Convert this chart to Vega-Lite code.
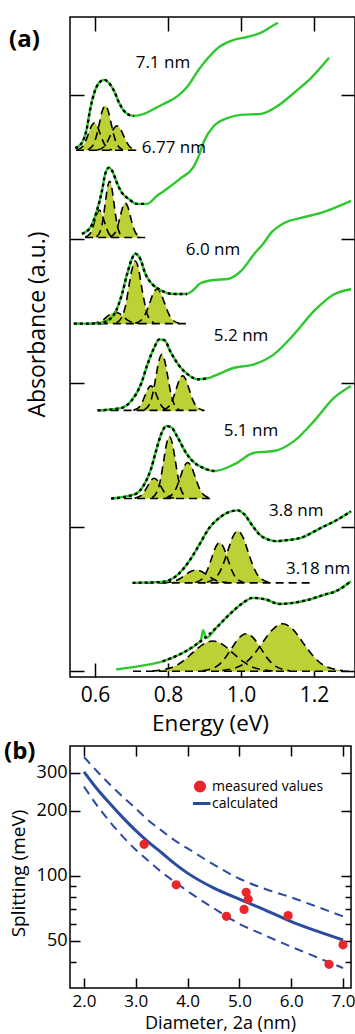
{
"$schema": "https://vega.github.io/schema/vega-lite/v6.json",
"padding": {"left": 3, "top": 15, "right": 0, "bottom": 0},
"background": "white",
"spacing": 3,
"config": {
 "font": "Open Sans",
 "view": {"stroke": "black", "strokeWidth": 1.5},
 "axis": {"grid": false, "domain": false, "tickColor": "black", "tickWidth": 1.5, "labelColor": "black", "titleColor": "black", "titleFontWeight": "normal", "labelFont": "Open Sans", "titleFont": "Open Sans"}
},
"datasets": {
 "spec": [
  {"s":1,"e":0.546,"a":3.63,"f":1},{"s":1,"e":0.564,"a":3.667,"f":1},{"s":1,"e":0.578,"a":3.771,"f":1},{"s":1,"e":0.586,"a":3.889,"f":1},{"s":1,"e":0.597,"a":4.007,"f":1},{"s":1,"e":0.611,"a":4.083,"f":1},{"s":1,"e":0.625,"a":4.104,"f":1},{"s":1,"e":0.638,"a":4.083,"f":1},{"s":1,"e":0.652,"a":4.028,"f":1},{"s":1,"e":0.666,"a":3.944,"f":1},{"s":1,"e":0.679,"a":3.889,"f":1},{"s":1,"e":0.693,"a":3.861,"f":1},{"s":1,"e":0.707,"a":3.854,"f":1},{"s":1,"e":0.734,"a":3.868,"f":0},{"s":1,"e":0.762,"a":3.903,"f":0},{"s":1,"e":0.789,"a":3.938,"f":0},{"s":1,"e":0.827,"a":3.993,"f":0},{"s":1,"e":0.855,"a":4.063,"f":0},{"s":1,"e":0.882,"a":4.167,"f":0},{"s":1,"e":0.91,"a":4.257,"f":0},{"s":1,"e":0.937,"a":4.326,"f":0},{"s":1,"e":0.973,"a":4.375,"f":0},{"s":1,"e":1.019,"a":4.403,"f":0},{"s":1,"e":1.055,"a":4.431,"f":0},{"s":1,"e":1.082,"a":4.472,"f":0},{"s":1,"e":1.101,"a":4.5,"f":0},
  {"s":2,"e":0.564,"a":3.035,"f":1},{"s":2,"e":0.587,"a":3.078,"f":1},{"s":2,"e":0.605,"a":3.194,"f":1},{"s":2,"e":0.619,"a":3.333,"f":1},{"s":2,"e":0.628,"a":3.451,"f":1},{"s":2,"e":0.638,"a":3.495,"f":1},{"s":2,"e":0.647,"a":3.472,"f":1},{"s":2,"e":0.66,"a":3.389,"f":1},{"s":2,"e":0.674,"a":3.319,"f":1},{"s":2,"e":0.692,"a":3.278,"f":1},{"s":2,"e":0.715,"a":3.243,"f":1},{"s":2,"e":0.742,"a":3.243,"f":1},{"s":2,"e":0.77,"a":3.299,"f":0},{"s":2,"e":0.789,"a":3.333,"f":0},{"s":2,"e":0.836,"a":3.424,"f":0},{"s":2,"e":0.868,"a":3.493,"f":0},{"s":2,"e":0.882,"a":3.563,"f":0},{"s":2,"e":0.899,"a":3.681,"f":0},{"s":2,"e":0.926,"a":3.785,"f":0},{"s":2,"e":0.964,"a":3.84,"f":0},{"s":2,"e":1.0,"a":3.861,"f":0},{"s":2,"e":1.055,"a":3.868,"f":0},{"s":2,"e":1.101,"a":3.924,"f":0},{"s":2,"e":1.145,"a":4.014,"f":0},{"s":2,"e":1.192,"a":4.118,"f":0},{"s":2,"e":1.241,"a":4.257,"f":0},
  {"s":3,"e":0.542,"a":2.412,"f":1},{"s":3,"e":0.605,"a":2.412,"f":1},{"s":3,"e":0.633,"a":2.431,"f":1},{"s":3,"e":0.655,"a":2.488,"f":1},{"s":3,"e":0.674,"a":2.618,"f":1},{"s":3,"e":0.688,"a":2.757,"f":1},{"s":3,"e":0.701,"a":2.861,"f":1},{"s":3,"e":0.71,"a":2.898,"f":1},{"s":3,"e":0.724,"a":2.861,"f":1},{"s":3,"e":0.738,"a":2.757,"f":1},{"s":3,"e":0.756,"a":2.688,"f":1},{"s":3,"e":0.779,"a":2.646,"f":1},{"s":3,"e":0.806,"a":2.62,"f":1},{"s":3,"e":0.829,"a":2.618,"f":1},{"s":3,"e":0.852,"a":2.618,"f":1},{"s":3,"e":0.866,"a":2.639,"f":0},{"s":3,"e":0.89,"a":2.694,"f":0},{"s":3,"e":0.926,"a":2.715,"f":0},{"s":3,"e":0.964,"a":2.722,"f":0},{"s":3,"e":1.0,"a":2.778,"f":0},{"s":3,"e":1.036,"a":2.896,"f":0},{"s":3,"e":1.06,"a":2.965,"f":0},{"s":3,"e":1.082,"a":3.042,"f":0},{"s":3,"e":1.118,"a":3.111,"f":0},{"s":3,"e":1.164,"a":3.146,"f":0},{"s":3,"e":1.219,"a":3.181,"f":0},{"s":3,"e":1.301,"a":3.264,"f":0},
  {"s":4,"e":0.607,"a":1.81,"f":1},{"s":4,"e":0.671,"a":1.826,"f":1},{"s":4,"e":0.699,"a":1.875,"f":1},{"s":4,"e":0.726,"a":1.993,"f":1},{"s":4,"e":0.744,"a":2.132,"f":1},{"s":4,"e":0.762,"a":2.245,"f":1},{"s":4,"e":0.776,"a":2.303,"f":1},{"s":4,"e":0.79,"a":2.297,"f":1},{"s":4,"e":0.808,"a":2.21,"f":1},{"s":4,"e":0.831,"a":2.118,"f":1},{"s":4,"e":0.854,"a":2.06,"f":1},{"s":4,"e":0.881,"a":2.026,"f":1},{"s":4,"e":0.909,"a":2.033,"f":1},{"s":4,"e":0.926,"a":2.049,"f":0},{"s":4,"e":0.981,"a":2.106,"f":0},{"s":4,"e":1.036,"a":2.13,"f":0},{"s":4,"e":1.09,"a":2.199,"f":0},{"s":4,"e":1.145,"a":2.338,"f":0},{"s":4,"e":1.2,"a":2.5,"f":0},{"s":4,"e":1.255,"a":2.616,"f":0},{"s":4,"e":1.301,"a":2.651,"f":0},
  {"s":5,"e":0.644,"a":1.199,"f":1},{"s":5,"e":0.708,"a":1.227,"f":1},{"s":5,"e":0.735,"a":1.297,"f":1},{"s":5,"e":0.753,"a":1.401,"f":1},{"s":5,"e":0.767,"a":1.528,"f":1},{"s":5,"e":0.781,"a":1.644,"f":1},{"s":5,"e":0.795,"a":1.701,"f":1},{"s":5,"e":0.808,"a":1.694,"f":1},{"s":5,"e":0.827,"a":1.62,"f":1},{"s":5,"e":0.849,"a":1.516,"f":1},{"s":5,"e":0.872,"a":1.447,"f":1},{"s":5,"e":0.899,"a":1.408,"f":1},{"s":5,"e":0.927,"a":1.389,"f":1},{"s":5,"e":0.981,"a":1.435,"f":0},{"s":5,"e":1.036,"a":1.516,"f":0},{"s":5,"e":1.09,"a":1.528,"f":0},{"s":5,"e":1.145,"a":1.597,"f":0},{"s":5,"e":1.2,"a":1.736,"f":0},{"s":5,"e":1.255,"a":1.898,"f":0},{"s":5,"e":1.301,"a":1.979,"f":0},
  {"s":6,"e":0.703,"a":0.613,"f":1},{"s":6,"e":0.785,"a":0.62,"f":1},{"s":6,"e":0.822,"a":0.66,"f":1},{"s":6,"e":0.858,"a":0.764,"f":1},{"s":6,"e":0.886,"a":0.88,"f":1},{"s":6,"e":0.913,"a":0.995,"f":1},{"s":6,"e":0.941,"a":1.065,"f":1},{"s":6,"e":0.968,"a":1.106,"f":1},{"s":6,"e":0.991,"a":1.116,"f":1},{"s":6,"e":1.009,"a":1.088,"f":1},{"s":6,"e":1.032,"a":1.007,"f":1},{"s":6,"e":1.05,"a":0.949,"f":1},{"s":6,"e":1.073,"a":0.915,"f":1},{"s":6,"e":1.096,"a":0.903,"f":1},{"s":6,"e":1.119,"a":0.908,"f":1},{"s":6,"e":1.164,"a":0.926,"f":1},{"s":6,"e":1.219,"a":0.995,"f":1},{"s":6,"e":1.265,"a":1.053,"f":1},{"s":6,"e":1.301,"a":1.111,"f":1},
  {"s":7,"e":0.658,"a":0.012,"f":0},{"s":7,"e":0.721,"a":0.035,"f":0},{"s":7,"e":0.785,"a":0.069,"f":1},{"s":7,"e":0.84,"a":0.127,"f":1},{"s":7,"e":0.877,"a":0.185,"f":1},{"s":7,"e":0.89,"a":0.215,"f":0},{"s":7,"e":0.896,"a":0.285,"f":0},{"s":7,"e":0.904,"a":0.231,"f":0},{"s":7,"e":0.932,"a":0.301,"f":1},{"s":7,"e":0.968,"a":0.394,"f":1},{"s":7,"e":1.005,"a":0.474,"f":1},{"s":7,"e":1.032,"a":0.509,"f":1},{"s":7,"e":1.068,"a":0.498,"f":1},{"s":7,"e":1.105,"a":0.467,"f":1},{"s":7,"e":1.142,"a":0.474,"f":1},{"s":7,"e":1.187,"a":0.498,"f":1},{"s":7,"e":1.224,"a":0.528,"f":1},{"s":7,"e":1.26,"a":0.556,"f":1},{"s":7,"e":1.301,"a":0.625,"f":1}
 ],
 "base": [
  {"s":1,"e":0.548,"a":3.615},{"s":1,"e":0.714,"a":3.615},
  {"s":2,"e":0.573,"a":3.01},{"s":2,"e":0.745,"a":3.01},
  {"s":3,"e":0.542,"a":2.412},{"s":3,"e":0.86,"a":2.412},
  {"s":4,"e":0.607,"a":1.81},{"s":4,"e":0.9,"a":1.81},
  {"s":5,"e":0.644,"a":1.199},{"s":5,"e":0.918,"a":1.199},
  {"s":6,"e":0.703,"a":0.613},{"s":6,"e":1.2,"a":0.613},
  {"s":7,"e":0.704,"a":0.0},{"s":7,"e":1.307,"a":0.0}
 ],
 "comp": [
  {"c":"1a","e":0.55,"a":3.617,"b":3.615},{"c":"1a","e":0.566,"a":3.641,"b":3.615},{"c":"1a","e":0.574,"a":3.677,"b":3.615},{"c":"1a","e":0.582,"a":3.73,"b":3.615},{"c":"1a","e":0.59,"a":3.783,"b":3.615},{"c":"1a","e":0.598,"a":3.805,"b":3.615},{"c":"1a","e":0.606,"a":3.783,"b":3.615},{"c":"1a","e":0.614,"a":3.73,"b":3.615},{"c":"1a","e":0.622,"a":3.677,"b":3.615},{"c":"1a","e":0.63,"a":3.641,"b":3.615},{"c":"1a","e":0.646,"a":3.617,"b":3.615},
  {"c":"1b","e":0.58,"a":3.618,"b":3.615},{"c":"1b","e":0.596,"a":3.657,"b":3.615},{"c":"1b","e":0.604,"a":3.716,"b":3.615},{"c":"1b","e":0.612,"a":3.803,"b":3.615},{"c":"1b","e":0.62,"a":3.889,"b":3.615},{"c":"1b","e":0.628,"a":3.925,"b":3.615},{"c":"1b","e":0.636,"a":3.889,"b":3.615},{"c":"1b","e":0.644,"a":3.803,"b":3.615},{"c":"1b","e":0.652,"a":3.716,"b":3.615},{"c":"1b","e":0.66,"a":3.657,"b":3.615},{"c":"1b","e":0.676,"a":3.618,"b":3.615},
  {"c":"1c","e":0.606,"a":3.617,"b":3.615},{"c":"1c","e":0.624,"a":3.638,"b":3.615},{"c":"1c","e":0.633,"a":3.67,"b":3.615},{"c":"1c","e":0.642,"a":3.718,"b":3.615},{"c":"1c","e":0.651,"a":3.765,"b":3.615},{"c":"1c","e":0.66,"a":3.785,"b":3.615},{"c":"1c","e":0.669,"a":3.765,"b":3.615},{"c":"1c","e":0.678,"a":3.718,"b":3.615},{"c":"1c","e":0.687,"a":3.67,"b":3.615},{"c":"1c","e":0.696,"a":3.638,"b":3.615},{"c":"1c","e":0.714,"a":3.617,"b":3.615},
  {"c":"2a","e":0.573,"a":3.012,"b":3.01},{"c":"2a","e":0.586,"a":3.036,"b":3.01},{"c":"2a","e":0.593,"a":3.072,"b":3.01},{"c":"2a","e":0.599,"a":3.125,"b":3.01},{"c":"2a","e":0.606,"a":3.178,"b":3.01},{"c":"2a","e":0.612,"a":3.2,"b":3.01},{"c":"2a","e":0.618,"a":3.178,"b":3.01},{"c":"2a","e":0.625,"a":3.125,"b":3.01},{"c":"2a","e":0.632,"a":3.072,"b":3.01},{"c":"2a","e":0.638,"a":3.036,"b":3.01},{"c":"2a","e":0.651,"a":3.012,"b":3.01},
  {"c":"2b","e":0.604,"a":3.014,"b":3.01},{"c":"2b","e":0.616,"a":3.063,"b":3.01},{"c":"2b","e":0.622,"a":3.137,"b":3.01},{"c":"2b","e":0.628,"a":3.247,"b":3.01},{"c":"2b","e":0.634,"a":3.354,"b":3.01},{"c":"2b","e":0.64,"a":3.4,"b":3.01},{"c":"2b","e":0.646,"a":3.354,"b":3.01},{"c":"2b","e":0.652,"a":3.247,"b":3.01},{"c":"2b","e":0.658,"a":3.137,"b":3.01},{"c":"2b","e":0.664,"a":3.063,"b":3.01},{"c":"2b","e":0.676,"a":3.014,"b":3.01},
  {"c":"2c","e":0.641,"a":3.013,"b":3.01},{"c":"2c","e":0.655,"a":3.043,"b":3.01},{"c":"2c","e":0.662,"a":3.088,"b":3.01},{"c":"2c","e":0.669,"a":3.156,"b":3.01},{"c":"2c","e":0.676,"a":3.222,"b":3.01},{"c":"2c","e":0.683,"a":3.25,"b":3.01},{"c":"2c","e":0.69,"a":3.222,"b":3.01},{"c":"2c","e":0.697,"a":3.156,"b":3.01},{"c":"2c","e":0.704,"a":3.088,"b":3.01},{"c":"2c","e":0.711,"a":3.043,"b":3.01},{"c":"2c","e":0.725,"a":3.013,"b":3.01},
  {"c":"3a","e":0.589,"a":2.413,"b":2.412},{"c":"3a","e":0.611,"a":2.423,"b":2.412},{"c":"3a","e":0.622,"a":2.438,"b":2.412},{"c":"3a","e":0.633,"a":2.461,"b":2.412},{"c":"3a","e":0.644,"a":2.483,"b":2.412},{"c":"3a","e":0.655,"a":2.492,"b":2.412},{"c":"3a","e":0.666,"a":2.483,"b":2.412},{"c":"3a","e":0.677,"a":2.461,"b":2.412},{"c":"3a","e":0.688,"a":2.438,"b":2.412},{"c":"3a","e":0.699,"a":2.423,"b":2.412},{"c":"3a","e":0.721,"a":2.413,"b":2.412},
  {"c":"3b","e":0.659,"a":2.417,"b":2.412},{"c":"3b","e":0.676,"a":2.471,"b":2.412},{"c":"3b","e":0.685,"a":2.553,"b":2.412},{"c":"3b","e":0.693,"a":2.676,"b":2.412},{"c":"3b","e":0.702,"a":2.796,"b":2.412},{"c":"3b","e":0.71,"a":2.847,"b":2.412},{"c":"3b","e":0.719,"a":2.796,"b":2.412},{"c":"3b","e":0.727,"a":2.676,"b":2.412},{"c":"3b","e":0.736,"a":2.553,"b":2.412},{"c":"3b","e":0.744,"a":2.471,"b":2.412},{"c":"3b","e":0.761,"a":2.417,"b":2.412},
  {"c":"3c","e":0.71,"a":2.415,"b":2.412},{"c":"3c","e":0.73,"a":2.445,"b":2.412},{"c":"3c","e":0.74,"a":2.49,"b":2.412},{"c":"3c","e":0.75,"a":2.558,"b":2.412},{"c":"3c","e":0.76,"a":2.624,"b":2.412},{"c":"3c","e":0.77,"a":2.652,"b":2.412},{"c":"3c","e":0.78,"a":2.624,"b":2.412},{"c":"3c","e":0.79,"a":2.558,"b":2.412},{"c":"3c","e":0.8,"a":2.49,"b":2.412},{"c":"3c","e":0.81,"a":2.445,"b":2.412},{"c":"3c","e":0.83,"a":2.415,"b":2.412},
  {"c":"4a","e":0.705,"a":1.812,"b":1.81},{"c":"4a","e":0.721,"a":1.833,"b":1.81},{"c":"4a","e":0.729,"a":1.865,"b":1.81},{"c":"4a","e":0.737,"a":1.913,"b":1.81},{"c":"4a","e":0.745,"a":1.96,"b":1.81},{"c":"4a","e":0.753,"a":1.98,"b":1.81},{"c":"4a","e":0.761,"a":1.96,"b":1.81},{"c":"4a","e":0.769,"a":1.913,"b":1.81},{"c":"4a","e":0.777,"a":1.865,"b":1.81},{"c":"4a","e":0.785,"a":1.833,"b":1.81},{"c":"4a","e":0.801,"a":1.812,"b":1.81},
  {"c":"4b","e":0.735,"a":1.814,"b":1.81},{"c":"4b","e":0.751,"a":1.863,"b":1.81},{"c":"4b","e":0.759,"a":1.937,"b":1.81},{"c":"4b","e":0.767,"a":2.047,"b":1.81},{"c":"4b","e":0.775,"a":2.154,"b":1.81},{"c":"4b","e":0.783,"a":2.2,"b":1.81},{"c":"4b","e":0.791,"a":2.154,"b":1.81},{"c":"4b","e":0.799,"a":2.047,"b":1.81},{"c":"4b","e":0.807,"a":1.937,"b":1.81},{"c":"4b","e":0.815,"a":1.863,"b":1.81},{"c":"4b","e":0.831,"a":1.814,"b":1.81},
  {"c":"4c","e":0.786,"a":1.813,"b":1.81},{"c":"4c","e":0.804,"a":1.843,"b":1.81},{"c":"4c","e":0.813,"a":1.888,"b":1.81},{"c":"4c","e":0.822,"a":1.956,"b":1.81},{"c":"4c","e":0.831,"a":2.022,"b":1.81},{"c":"4c","e":0.84,"a":2.05,"b":1.81},{"c":"4c","e":0.849,"a":2.022,"b":1.81},{"c":"4c","e":0.858,"a":1.956,"b":1.81},{"c":"4c","e":0.867,"a":1.888,"b":1.81},{"c":"4c","e":0.876,"a":1.843,"b":1.81},{"c":"4c","e":0.894,"a":1.813,"b":1.81},
  {"c":"5a","e":0.708,"a":1.201,"b":1.199},{"c":"5a","e":0.726,"a":1.218,"b":1.199},{"c":"5a","e":0.735,"a":1.245,"b":1.199},{"c":"5a","e":0.744,"a":1.284,"b":1.199},{"c":"5a","e":0.753,"a":1.323,"b":1.199},{"c":"5a","e":0.762,"a":1.339,"b":1.199},{"c":"5a","e":0.771,"a":1.323,"b":1.199},{"c":"5a","e":0.78,"a":1.284,"b":1.199},{"c":"5a","e":0.789,"a":1.245,"b":1.199},{"c":"5a","e":0.798,"a":1.218,"b":1.199},{"c":"5a","e":0.816,"a":1.201,"b":1.199},
  {"c":"5b","e":0.756,"a":1.204,"b":1.199},{"c":"5b","e":0.772,"a":1.257,"b":1.199},{"c":"5b","e":0.78,"a":1.339,"b":1.199},{"c":"5b","e":0.788,"a":1.46,"b":1.199},{"c":"5b","e":0.796,"a":1.579,"b":1.199},{"c":"5b","e":0.804,"a":1.629,"b":1.199},{"c":"5b","e":0.812,"a":1.579,"b":1.199},{"c":"5b","e":0.82,"a":1.46,"b":1.199},{"c":"5b","e":0.828,"a":1.339,"b":1.199},{"c":"5b","e":0.836,"a":1.257,"b":1.199},{"c":"5b","e":0.852,"a":1.204,"b":1.199},
  {"c":"5c","e":0.794,"a":1.202,"b":1.199},{"c":"5c","e":0.814,"a":1.233,"b":1.199},{"c":"5c","e":0.824,"a":1.28,"b":1.199},{"c":"5c","e":0.834,"a":1.351,"b":1.199},{"c":"5c","e":0.844,"a":1.42,"b":1.199},{"c":"5c","e":0.854,"a":1.449,"b":1.199},{"c":"5c","e":0.864,"a":1.42,"b":1.199},{"c":"5c","e":0.874,"a":1.351,"b":1.199},{"c":"5c","e":0.884,"a":1.28,"b":1.199},{"c":"5c","e":0.894,"a":1.233,"b":1.199},{"c":"5c","e":0.914,"a":1.202,"b":1.199},
  {"c":"6a","e":0.787,"a":0.614,"b":0.613},{"c":"6a","e":0.817,"a":0.625,"b":0.613},{"c":"6a","e":0.832,"a":0.642,"b":0.613},{"c":"6a","e":0.847,"a":0.668,"b":0.613},{"c":"6a","e":0.862,"a":0.692,"b":0.613},{"c":"6a","e":0.877,"a":0.703,"b":0.613},{"c":"6a","e":0.892,"a":0.692,"b":0.613},{"c":"6a","e":0.907,"a":0.668,"b":0.613},{"c":"6a","e":0.922,"a":0.642,"b":0.613},{"c":"6a","e":0.937,"a":0.625,"b":0.613},{"c":"6a","e":0.967,"a":0.614,"b":0.613},
  {"c":"6b","e":0.875,"a":0.616,"b":0.613},{"c":"6b","e":0.897,"a":0.651,"b":0.613},{"c":"6b","e":0.908,"a":0.704,"b":0.613},{"c":"6b","e":0.919,"a":0.783,"b":0.613},{"c":"6b","e":0.93,"a":0.86,"b":0.613},{"c":"6b","e":0.941,"a":0.893,"b":0.613},{"c":"6b","e":0.952,"a":0.86,"b":0.613},{"c":"6b","e":0.963,"a":0.783,"b":0.613},{"c":"6b","e":0.974,"a":0.704,"b":0.613},{"c":"6b","e":0.985,"a":0.651,"b":0.613},{"c":"6b","e":1.007,"a":0.616,"b":0.613},
  {"c":"6c","e":0.907,"a":0.617,"b":0.613},{"c":"6c","e":0.935,"a":0.662,"b":0.613},{"c":"6c","e":0.949,"a":0.73,"b":0.613},{"c":"6c","e":0.963,"a":0.831,"b":0.613},{"c":"6c","e":0.977,"a":0.931,"b":0.613},{"c":"6c","e":0.991,"a":0.973,"b":0.613},{"c":"6c","e":1.005,"a":0.931,"b":0.613},{"c":"6c","e":1.019,"a":0.831,"b":0.613},{"c":"6c","e":1.033,"a":0.73,"b":0.613},{"c":"6c","e":1.047,"a":0.662,"b":0.613},{"c":"6c","e":1.075,"a":0.617,"b":0.613},
  {"c":"7a","e":0.757,"a":0.002,"b":0},{"c":"7a","e":0.812,"a":0.028,"b":0},{"c":"7a","e":0.84,"a":0.068,"b":0},{"c":"7a","e":0.867,"a":0.127,"b":0},{"c":"7a","e":0.895,"a":0.185,"b":0},{"c":"7a","e":0.922,"a":0.21,"b":0},{"c":"7a","e":0.95,"a":0.185,"b":0},{"c":"7a","e":0.977,"a":0.127,"b":0},{"c":"7a","e":1.005,"a":0.068,"b":0},{"c":"7a","e":1.032,"a":0.028,"b":0},{"c":"7a","e":1.087,"a":0.002,"b":0},
  {"c":"7b","e":0.894,"a":0.003,"b":0},{"c":"7b","e":0.934,"a":0.035,"b":0},{"c":"7b","e":0.954,"a":0.084,"b":0},{"c":"7b","e":0.974,"a":0.158,"b":0},{"c":"7b","e":0.994,"a":0.23,"b":0},{"c":"7b","e":1.014,"a":0.26,"b":0},{"c":"7b","e":1.034,"a":0.23,"b":0},{"c":"7b","e":1.054,"a":0.158,"b":0},{"c":"7b","e":1.074,"a":0.084,"b":0},{"c":"7b","e":1.094,"a":0.035,"b":0},{"c":"7b","e":1.134,"a":0.003,"b":0},
  {"c":"7c","e":0.949,"a":0.004,"b":0},{"c":"7c","e":1.004,"a":0.045,"b":0},{"c":"7c","e":1.032,"a":0.107,"b":0},{"c":"7c","e":1.059,"a":0.2,"b":0},{"c":"7c","e":1.087,"a":0.291,"b":0},{"c":"7c","e":1.114,"a":0.33,"b":0},{"c":"7c","e":1.142,"a":0.291,"b":0},{"c":"7c","e":1.169,"a":0.2,"b":0},{"c":"7c","e":1.197,"a":0.107,"b":0},{"c":"7c","e":1.224,"a":0.045,"b":0},{"c":"7c","e":1.279,"a":0.004,"b":0}
 ],
 "lab": [
  {"e":0.786,"a":4.222,"t":"7.1 nm"},{"e":0.816,"a":3.632,"t":"6.77 nm"},{"e":0.923,"a":2.924,"t":"6.0 nm"},{"e":1.0,"a":2.326,"t":"5.2 nm"},{"e":1.027,"a":1.667,"t":"5.1 nm"},{"e":1.151,"a":1.111,"t":"3.8 nm"},{"e":1.211,"a":0.708,"t":"3.18 nm"}
 ],
 "calc": [
  {"d":2.0,"v":303,"series":"calculated"},{"d":2.25,"v":253,"series":"calculated"},{"d":2.5,"v":216,"series":"calculated"},{"d":2.75,"v":186,"series":"calculated"},{"d":3.0,"v":162,"series":"calculated"},{"d":3.25,"v":143,"series":"calculated"},{"d":3.5,"v":128,"series":"calculated"},{"d":3.75,"v":114,"series":"calculated"},{"d":4.0,"v":103,"series":"calculated"},{"d":4.5,"v":88,"series":"calculated"},{"d":5.0,"v":78,"series":"calculated"},{"d":5.5,"v":69.5,"series":"calculated"},{"d":6.0,"v":61.5,"series":"calculated"},{"d":6.5,"v":55.5,"series":"calculated"},{"d":7.0,"v":50.5,"series":"calculated"}
 ],
 "band": [
  {"d":2.0,"v":355,"k":"u"},{"d":2.25,"v":305,"k":"u"},{"d":2.5,"v":265,"k":"u"},{"d":2.75,"v":232,"k":"u"},{"d":3.0,"v":205,"k":"u"},{"d":3.25,"v":180,"k":"u"},{"d":3.5,"v":162,"k":"u"},{"d":3.75,"v":146,"k":"u"},{"d":4.0,"v":134,"k":"u"},{"d":4.5,"v":113,"k":"u"},{"d":5.0,"v":97,"k":"u"},{"d":5.5,"v":87,"k":"u"},{"d":6.0,"v":79.5,"k":"u"},{"d":6.5,"v":72,"k":"u"},{"d":7.0,"v":65,"k":"u"},
  {"d":2.0,"v":259,"k":"l"},{"d":2.25,"v":212,"k":"l"},{"d":2.5,"v":178,"k":"l"},{"d":2.75,"v":152,"k":"l"},{"d":3.0,"v":132,"k":"l"},{"d":3.25,"v":117,"k":"l"},{"d":3.5,"v":104,"k":"l"},{"d":3.75,"v":94,"k":"l"},{"d":4.0,"v":85,"k":"l"},{"d":4.5,"v":71,"k":"l"},{"d":5.0,"v":60,"k":"l"},{"d":5.5,"v":53,"k":"l"},{"d":6.0,"v":47,"k":"l"},{"d":6.5,"v":42,"k":"l"},{"d":7.0,"v":37.5,"k":"l"}
 ],
 "meas": [
  {"d":3.16,"v":140,"series":"measured values"},{"d":3.78,"v":91,"series":"measured values"},{"d":4.75,"v":65,"series":"measured values"},{"d":5.09,"v":70,"series":"measured values"},{"d":5.13,"v":84,"series":"measured values"},{"d":5.17,"v":78,"series":"measured values"},{"d":5.94,"v":65.5,"series":"measured values"},{"d":6.73,"v":39,"series":"measured values"},{"d":7.0,"v":48,"series":"measured values"}
 ]
},
"vconcat": [
 {
  "width": 285, "height": 660,
  "title": {"text": "(a)", "anchor": "start", "frame": "group", "orient": "none", "fontSize": 24, "fontWeight": "bold", "color": "black", "offset": 0, "baseline": "alphabetic", "align": "left", "dx": -61, "dy": 30},
  "layer": [
   {"data": {"name": "comp"}, "mark": {"type": "area", "color": "#bcd135", "interpolate": "monotone", "opacity": 1},
    "encoding": {
     "x": {"field": "e", "type": "quantitative", "scale": {"domain": [0.5315, 1.312], "nice": false, "zero": false},
       "axis": {"orient": "bottom", "values": [0.6, 0.8, 1.0, 1.2], "format": ".1f", "tickSize": -14, "labelFontSize": 21, "labelPadding": 21, "title": "Energy (eV)", "titleFontSize": 22.5, "titleBaseline": "alphabetic", "titleX": 140, "titleY": 53}},
     "y": {"field": "a", "type": "quantitative", "stack": null, "scale": {"domain": [-0.04, 4.54], "nice": false, "zero": false},
       "axis": {"orient": "left", "values": [0, 1, 2, 3, 4], "labels": false, "tickSize": -14, "title": "Absorbance (a.u.)", "titleFontSize": 23, "titleAngle": 270, "titleBaseline": "bottom", "titleX": -21, "titleY": 307}},
     "y2": {"field": "b"},
     "detail": {"field": "c"}}},
   {"data": {"name": "comp"}, "mark": {"type": "line", "color": "black", "strokeWidth": 1.6, "strokeDash": [8, 5], "interpolate": "monotone"},
    "encoding": {
     "x": {"field": "e", "type": "quantitative", "scale": {"domain": [0.5315, 1.312], "nice": false, "zero": false}, "axis": null},
     "y": {"field": "a", "type": "quantitative", "scale": {"domain": [-0.04, 4.54], "nice": false, "zero": false}, "axis": null},
     "detail": {"field": "c"}}},
   {"data": {"name": "base"}, "mark": {"type": "line", "color": "black", "strokeWidth": 1.6, "strokeDash": [8, 5]},
    "encoding": {
     "x": {"field": "e", "type": "quantitative", "scale": {"domain": [0.5315, 1.312], "nice": false, "zero": false}, "axis": null},
     "y": {"field": "a", "type": "quantitative", "scale": {"domain": [-0.04, 4.54], "nice": false, "zero": false}, "axis": null},
     "detail": {"field": "s"}}},
   {"data": {"name": "spec"}, "mark": {"type": "line", "color": "#2ec82e", "strokeWidth": 2.4, "interpolate": "monotone"},
    "encoding": {
     "x": {"field": "e", "type": "quantitative", "scale": {"domain": [0.5315, 1.312], "nice": false, "zero": false}, "axis": null},
     "y": {"field": "a", "type": "quantitative", "scale": {"domain": [-0.04, 4.54], "nice": false, "zero": false}, "axis": null},
     "detail": {"field": "s"}}},
   {"data": {"name": "spec"}, "transform": [{"filter": "datum.f == 1"}], "mark": {"type": "line", "color": "black", "strokeWidth": 2.4, "strokeDash": [3, 3], "interpolate": "monotone"},
    "encoding": {
     "x": {"field": "e", "type": "quantitative", "scale": {"domain": [0.5315, 1.312], "nice": false, "zero": false}, "axis": null},
     "y": {"field": "a", "type": "quantitative", "scale": {"domain": [-0.04, 4.54], "nice": false, "zero": false}, "axis": null},
     "detail": {"field": "s"}}},
   {"data": {"name": "lab"}, "mark": {"type": "text", "fontSize": 17, "color": "black", "font": "Open Sans"},
    "encoding": {
     "x": {"field": "e", "type": "quantitative", "scale": {"domain": [0.5315, 1.312], "nice": false, "zero": false},
       "axis": {"orient": "top", "values": [0.6, 0.8, 1.0, 1.2], "labels": false, "tickSize": -14, "title": null}},
     "y": {"field": "a", "type": "quantitative", "scale": {"domain": [-0.04, 4.54], "nice": false, "zero": false},
       "axis": {"orient": "right", "values": [0, 1, 2, 3, 4], "labels": false, "tickSize": -14, "title": null}},
     "text": {"field": "t"}}}
  ],
  "resolve": {"axis": {"x": "independent", "y": "independent"}}
 },
 {
  "width": 281, "height": 242,
  "title": {"text": "(b)", "anchor": "start", "frame": "group", "orient": "none", "fontSize": 24, "fontWeight": "bold", "color": "black", "offset": 0, "baseline": "alphabetic", "align": "left", "dx": -66, "dy": 13},
  "layer": [
   {"data": {"name": "band"}, "mark": {"type": "line", "color": "#2b4ba0", "strokeWidth": 2, "strokeDash": [9, 6], "interpolate": "monotone"},
    "encoding": {
     "x": {"field": "d", "type": "quantitative", "scale": {"domain": [1.73, 7.154], "nice": false, "zero": false},
       "axis": {"orient": "bottom", "values": [2, 3, 4, 5, 6, 7], "format": ".1f", "tickSize": -10, "labelFontSize": 17, "labelPadding": 15, "title": "Diameter, 2a (nm)", "titleFontSize": 18, "titleBaseline": "alphabetic", "titleX": 150, "titleY": 40}},
     "y": {"field": "v", "type": "quantitative", "scale": {"type": "log", "domain": [30.3, 399], "nice": false},
       "axis": {"orient": "left", "values": [40, 50, 60, 70, 80, 90, 100, 200, 300], "format": "d", "labelOverlap": false,
         "labelExpr": "(datum.value == 50 || datum.value == 100 || datum.value == 200 || datum.value == 300) ? datum.label : ''",
         "tickSize": {"condition": {"test": "datum.value == 50 || datum.value == 100 || datum.value == 200 || datum.value == 300", "value": -10}, "value": -6},
         "labelPadding": 13, "labelFontSize": 18, "title": "Splitting (meV)", "titleFontSize": 19, "titleAngle": 270, "titleBaseline": "bottom", "titleX": -42, "titleY": 127}},
     "detail": {"field": "k"}}},
   {"data": {"name": "calc"}, "mark": {"type": "line", "strokeWidth": 3, "interpolate": "monotone"},
    "encoding": {
     "x": {"field": "d", "type": "quantitative", "scale": {"domain": [1.73, 7.154], "nice": false, "zero": false},
       "axis": {"orient": "top", "values": [2, 3, 4, 5, 6, 7], "labels": false, "tickSize": -10, "title": null}},
     "y": {"field": "v", "type": "quantitative", "scale": {"type": "log", "domain": [30.3, 399], "nice": false},
       "axis": {"orient": "right", "values": [40, 50, 60, 70, 80, 90, 100, 200, 300], "labels": false,
         "tickSize": {"condition": {"test": "datum.value == 50 || datum.value == 100 || datum.value == 200 || datum.value == 300", "value": -10}, "value": -6}, "title": null}},
     "color": {"field": "series", "type": "nominal", "scale": {"domain": ["measured values", "calculated"], "range": ["#e8262b", "#2b4ba0"]},
       "legend": {"orient": "none", "legendX": 123, "legendY": 761, "title": null, "labelFontSize": 14, "labelColor": "black", "symbolSize": 441, "clipHeight": 17, "labelOffset": 5, "rowPadding": 0, "padding": 0,
         "encode": {"symbols": {"update": {"shape": {"signal": "datum.value === 'calculated' ? 'stroke' : 'circle'"}, "size": {"signal": "datum.value === 'calculated' ? 441 : 85"}, "strokeWidth": {"value": 3}, "fill": {"signal": "datum.value === 'calculated' ? 'transparent' : '#e8262b'"}, "stroke": {"signal": "datum.value === 'calculated' ? '#2b4ba0' : 'transparent'"}, "opacity": {"value": 1}}}}}}}},
   {"data": {"name": "meas"}, "mark": {"type": "point", "filled": true, "size": 85, "opacity": 1},
    "encoding": {
     "x": {"field": "d", "type": "quantitative", "scale": {"domain": [1.73, 7.154], "nice": false, "zero": false}, "axis": null},
     "y": {"field": "v", "type": "quantitative", "scale": {"type": "log", "domain": [30.3, 399], "nice": false}, "axis": null},
     "color": {"field": "series", "type": "nominal", "scale": {"domain": ["measured values", "calculated"], "range": ["#e8262b", "#2b4ba0"]},
       "legend": {"orient": "none", "legendX": 123, "legendY": 761, "title": null, "labelFontSize": 14, "labelColor": "black", "symbolSize": 441, "clipHeight": 17, "labelOffset": 5, "rowPadding": 0, "padding": 0,
         "encode": {"symbols": {"update": {"shape": {"signal": "datum.value === 'calculated' ? 'stroke' : 'circle'"}, "size": {"signal": "datum.value === 'calculated' ? 441 : 85"}, "strokeWidth": {"value": 3}, "fill": {"signal": "datum.value === 'calculated' ? 'transparent' : '#e8262b'"}, "stroke": {"signal": "datum.value === 'calculated' ? '#2b4ba0' : 'transparent'"}, "opacity": {"value": 1}}}}}}}}
  ],
  "resolve": {"axis": {"x": "independent", "y": "independent"}}
 }
]
}
